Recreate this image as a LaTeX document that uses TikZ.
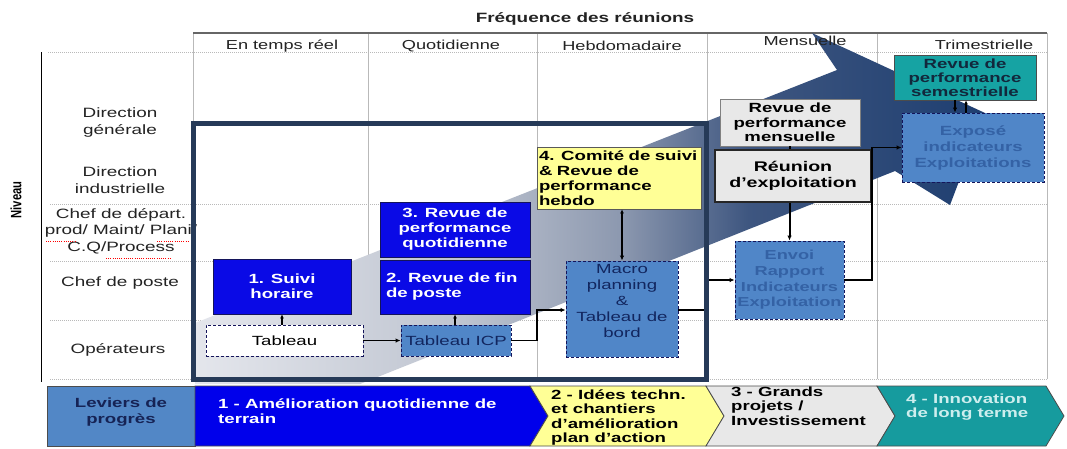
\documentclass[tikz,border=0pt]{standalone}
\usepackage{fontspec}
\setmainfont{Liberation Sans}[FakeStretch=1.4]
\newfontfamily\narrowfont{Liberation Sans}[FakeStretch=0.75]
\usetikzlibrary{arrows.meta,calc}

\definecolor{boxblue}{RGB}{10,10,230}
\definecolor{navyline}{RGB}{20,20,90}
\definecolor{steel}{RGB}{80,134,200}
\definecolor{darktxt}{RGB}{18,38,95}
\definecolor{fainttxt}{RGB}{52,98,165}
\definecolor{yell}{RGB}{255,255,150}
\definecolor{lgray}{RGB}{232,232,232}
\definecolor{tealbox}{RGB}{22,163,163}
\definecolor{tealtxt}{RGB}{18,40,60}
\definecolor{framec}{RGB}{38,58,88}
\definecolor{gridc}{RGB}{185,185,185}
\definecolor{labtxt}{RGB}{35,35,35}
\definecolor{chblue}{RGB}{0,0,235}
\definecolor{chteal}{RGB}{22,155,158}
\definecolor{chtealtxt}{RGB}{205,238,238}
\definecolor{levier}{RGB}{82,135,198}
\definecolor{leviertxt}{RGB}{22,35,85}
\definecolor{arA}{RGB}{228,230,236}
\definecolor{arB}{RGB}{190,196,208}
\definecolor{arC}{RGB}{140,152,175}
\definecolor{arD}{RGB}{62,86,128}
\definecolor{arE}{RGB}{30,62,112}

\pgfdeclarehorizontalshading{bigarrowshade}{100bp}{color(0bp)=(arA); color(25bp)=(arA); color(42bp)=(arB); color(52bp)=(arC); color(60bp)=(arD); color(75bp)=(arE); color(100bp)=(arE)}

\begin{document}
\begin{tikzpicture}[x=1pt,y=-1pt,
  lbl/.style={inner sep=0pt, align=center, text=labtxt, font=\fontsize{13.5}{16.5}\selectfont},
  hdr/.style={inner sep=0pt, text=labtxt, font=\fontsize{13}{15}\selectfont},
  bx/.style={inner sep=0pt, align=center, font=\bfseries\fontsize{13.3}{15}\selectfont},
  bluebox/.style={bx, draw=navyline, line width=0.8, fill=boxblue, text=white},
  dashbox/.style={inner sep=0pt, draw=navyline, dash pattern=on 3pt off 2pt, line width=0.9, fill=steel, align=center, font=\fontsize{13.3}{15.8}\selectfont},
  graybox/.style={bx, fill=lgray, draw=gray, line width=0.8, text=black},
  conn/.style={draw=black, line width=1.3},
  tip/.style={-{Latex[length=5pt,width=4.5pt]}},
  rtip/.style={{Latex[length=4pt,width=4pt]}-},
  gridv/.style={draw=gridc, line width=0.7},
  gridh/.style={draw=gridc, line width=0.9, dash pattern=on 1pt off 1pt},
  squig/.style={draw=red, line width=0.9, dash pattern=on 1pt off 1.2pt},
  chev/.style={draw=gray!60!black, line width=0.8},
  bartxt/.style={inner sep=0pt, anchor=west, align=left, font=\bfseries\fontsize{13.3}{14.5}\selectfont}
]
\useasboundingbox (0,0) rectangle (1067,448);
\fill[white] (0,0) rectangle (1067,448);

% grid
\draw[gridh] (48,52) -- (1047,52);
\draw[gridh] (50,204) -- (1047,204);
\draw[gridh] (50,261) -- (1047,261);
\draw[gridh] (50,320) -- (1047,320);
\draw[gridh] (50,379) -- (1047,379);
\foreach \xx in {193,368,537,707,877,1047} \draw[gridv] (\xx,33) -- (\xx,379);
\draw[draw=gray!80!black, line width=1.6] (193,33) -- (1047,33);
\draw[black, line width=1] (41,52) -- (41,382);

% big arrow
\shade[shading=bigarrowshade] (195,323) -- (837,70) -- (812,33) -- (985,113) -- (950,205) -- (895,171) -- (360,384) -- (195,384) -- cycle;

% headers
\node[inner sep=0pt, text=labtxt, font=\bfseries\fontsize{13.5}{15}\selectfont] (title) at (585,19) {Fréquence des réunions};
\node[hdr] (h1) at (282,46) {En temps réel};
\node[hdr] (h2) at (451,46) {Quotidienne};
\node[hdr] (h3) at (622,46) {Hebdomadaire};
\node[hdr] (h4) at (805,41) {Mensuelle};
\node[hdr] (h5) at (984,45) {Trimestrielle};

% row labels
\node[inner sep=0pt, rotate=90, text=black, font=\narrowfont\bfseries\fontsize{15}{15}\selectfont] (niv) at (16,200) {Niveau};
\node[lbl] (r1) at (120,122.5) {Direction\\générale};
\node[lbl] (r2) at (120,180) {Direction\\industrielle};
\node[lbl] (r3) at (121,231) {Chef de départ.\\prod/ Maint/ Plani/\\C.Q/Process};
\draw[squig] (46,241) -- (76,241);
\draw[squig] (157,241) -- (190,241);
\draw[squig] (106,258) -- (172,258);
\node[lbl] (r4) at (120,283) {Chef de poste};
\node[lbl] (r5) at (118,350) {Opérateurs};

% boxes
\node[bluebox, minimum width=138pt, minimum height=55pt] (suivi) at (282,286.5) {1. Suivi\\horaire};
\node[bluebox, minimum width=150pt, minimum height=55pt] (revq) at (455,229.5) {3. Revue de\\performance\\quotidienne};
\node[bluebox, minimum width=150pt, minimum height=54pt, text width=138pt, align=left] (revf) at (455,287) {2. Revue de fin\\de poste};
\node[dashbox, fill=white, minimum width=157pt, minimum height=31pt, text=black] (tabl) at (284.5,340.5) {Tableau};
\node[dashbox, minimum width=110pt, minimum height=31pt, text=darktxt] (icp) at (456,340.5) {Tableau ICP};
\node[bx, fill=yell, draw=gray!70!black, line width=0.8, minimum width=164pt, minimum height=62pt, text width=160pt, align=left] (comite) at (619,178) {4. Comité de suivi\\\& Revue de\\performance\\hebdo};
\node[dashbox, minimum width=112pt, minimum height=96pt] (macro) at (622,309) {};
\node[inner sep=0pt, align=center, text=darktxt, font=\fontsize{13.3}{15.8}\selectfont] (macrotxt) at (622,301) {Macro\\planning\\\&\\Tableau de\\bord};
\node[graybox, minimum width=140pt, minimum height=47pt, font=\bfseries\fontsize{13.3}{14.5}\selectfont] (mens) at (790,122.5) {Revue de\\performance\\mensuelle};
\node[graybox, draw=black!85, line width=1.4, minimum width=156pt, minimum height=52pt, font=\bfseries\fontsize{14}{16}\selectfont] (reun) at (793,176) {Réunion\\d’exploitation};
\node[dashbox, minimum width=109pt, minimum height=78pt, text=fainttxt, font=\bfseries\fontsize{13}{15.6}\selectfont] (envoi) at (789.5,280) {Envoi\\Rapport\\Indicateurs\\Exploitation};
\node[bx, fill=tealbox, draw=black!70, line width=0.8, minimum width=142pt, minimum height=45pt, text=tealtxt, font=\bfseries\fontsize{13.3}{14}\selectfont] (sem) at (965,77.5) {Revue de\\performance\\semestrielle};
\node[dashbox, minimum width=142pt, minimum height=69pt, text=fainttxt, font=\bfseries\fontsize{13.3}{16}\selectfont] (expo) at (973,147.5) {Exposé\\indicateurs\\Exploitations};

% connectors
\coordinate (k1) at (537,310);
\coordinate (k2) at (706,310);
\coordinate (k3) at (706,280);
\coordinate (k4) at (872,147.5);
\draw[conn, rtip] (suivi.south) -- (suivi.south |- tabl.north);
\draw[conn, rtip] (revf.south) -- (revf.south |- icp.north);
\draw[conn, tip] (tabl.east) -- (icp.west);
\draw[conn, tip] (icp.east) -| (k1) -- (macro.west |- k1);
\draw[conn, tip] (macro.east |- k2) -- (k2) -- (k3) -- (envoi.west |- k3);
\draw[conn, {Latex[length=4pt,width=4pt]}-{Latex[length=5pt,width=4.5pt]}] (macro.north |- comite.south) -- (macro.north);
\draw[conn, line width=2, tip] (envoi.north |- reun.south) -- (envoi.north);
\draw[conn] (mens.south) -- (mens.south |- reun.north);
\draw[conn, line width=1.6, tip] (envoi.east) -| (k4) -- (expo.west);
\draw[conn, tip] ([xshift=-10pt]sem.south) -- ([xshift=-10pt]sem.south |- expo.north);
\draw[conn, rtip] ([xshift=1pt]sem.south) -- ([xshift=1pt]sem.south |- expo.north);

% frame
\draw[draw=framec, line width=5] (193,123) rectangle (706,379);

% bottom bar
\node[inner sep=0pt, fill=levier, draw=gray!60!black, line width=0.8, minimum width=148pt, minimum height=60pt] (lev) at (121,416) {};
\node[inner sep=0pt, align=center, text=leviertxt, font=\bfseries\fontsize{13.3}{16}\selectfont] (levtxt) at (121,412) {Leviers de\\progrès};
\filldraw[chev, fill=chblue] (195,386) -- (530,386) -- (548,416) -- (530,446) -- (195,446) -- cycle;
\filldraw[chev, fill=yell] (530,386) -- (706,386) -- (724,416) -- (706,446) -- (530,446) -- (548,416) -- cycle;
\filldraw[chev, fill=lgray] (706,386) -- (877,386) -- (895,416) -- (877,446) -- (706,446) -- (724,416) -- cycle;
\filldraw[chev, fill=chteal] (877,386) -- (1046,386) -- (1064,416) -- (1046,446) -- (877,446) -- (895,416) -- cycle;
\node[bartxt, text=white] (b1) at (218,411) {1 - Amélioration quotidienne de\\terrain};
\node[bartxt, text=black, font=\bfseries\fontsize{13.3}{14.3}\selectfont] (b2) at (551,417.5) {2 - Idées techn.\\et chantiers\\d’amélioration\\plan d’action};
\node[bartxt, text=black] (b3) at (731,406) {3 - Grands\\projets /\\Investissement};
\node[bartxt, text=chtealtxt] (b4) at (906,407) {4 - Innovation\\de long terme};
\end{tikzpicture}
\end{document}
